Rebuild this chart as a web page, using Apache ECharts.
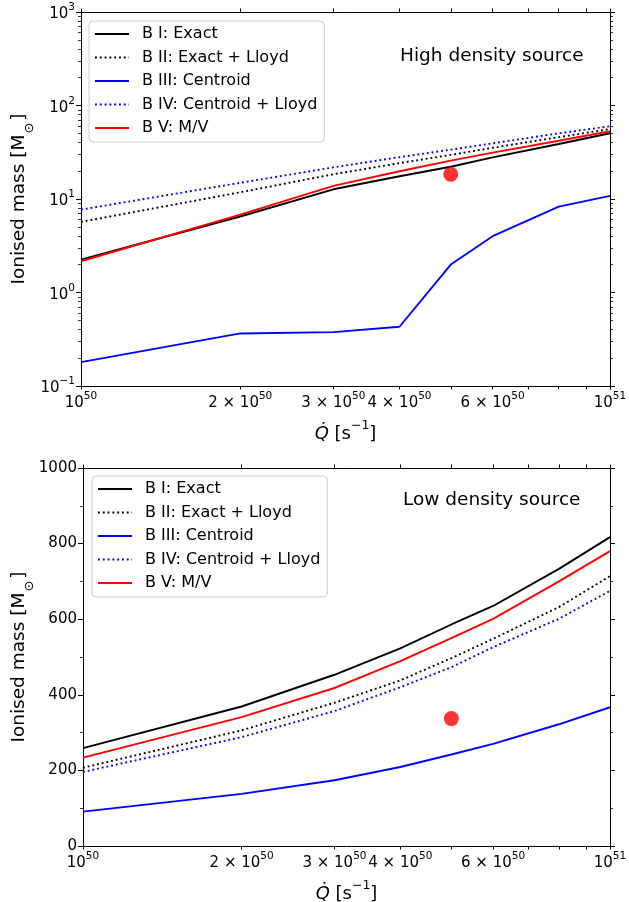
<!DOCTYPE html>
<html>
<head>
<meta charset="utf-8">
<script src="https://cdn.jsdelivr.net/npm/echarts@6/dist/echarts.min.js"></script>
<style>
html,body{margin:0;padding:0;background:#fff;}
#chart{width:629px;height:902px;}
</style>
</head>
<body>
<div id="chart"></div>
<script>
// Q-dot values in units of 1e50 s^-1
const qValues = [1, 2, 3, 4, 5, 6, 8, 10];
const seriesNames = ['B I: Exact', 'B II: Exact + Lloyd', 'B III: Centroid', 'B IV: Centroid + Lloyd', 'B V: M/V'];

// High density source (log-log)
const highExact = [2.25, 6.5, 12.7, 17.5, 22.1, 27.9, 38.7, 50.5];
const highExactLloyd = [5.7, 11.8, 18.4, 24.2, 29.6, 35.3, 45.9, 56];
const highCentroid = [0.18, 0.365, 0.377, 0.43, 1.99, 4.0, 8.3, 10.8];
const highCentroidLloyd = [7.7, 14.9, 21.8, 28, 33.7, 39.4, 50.4, 60];
const highMV = [2.16, 6.8, 13.8, 19.8, 25.7, 31.3, 42, 53];
const highPoint = [[5, 18.4]];

// Low density source (log-linear)
const lowExact = [259, 369, 453, 523, 586, 635, 733, 817];
const lowExactLloyd = [207, 306, 379, 438, 497, 548, 632, 714];
const lowCentroid = [91, 138, 174, 209, 242, 270, 322, 367];
const lowCentroidLloyd = [196, 288, 357, 420, 473, 526, 601, 675];
const lowMV = [234, 341, 418, 489, 550, 601, 700, 780];
const lowPoint = [[5, 337]];

// Tick values / labels
const xTickValues = [1, 2, 3, 4, 5, 6, 7, 8, 9, 10];
const xLabelValues = [1, 2, 3, 4, 6, 10];
const xLabelMantissa = ['', '2 × ', '3 × ', '4 × ', '6 × ', ''];
const xLabelExponent = ['50', '50', '50', '50', '50', '51'];
const yTopMajor = [0.1, 1, 10, 100, 1000];
const yTopExponent = ['−1', '0', '1', '2', '3'];
const yTopMinor = [];
[0.1, 1, 10, 100].forEach(d => { for (let k = 2; k <= 9; k++) yTopMinor.push(+(d * k).toPrecision(3)); });
const yLowMin = 0, yLowMax = 1000, yLowStep = 200;

const FONT = 'DejaVu Sans';
const colors = ['#000000', '#000000', '#0000ff', '#0000ff', '#ff0000'];
const dotted = [false, true, false, true, false];

const chart = echarts.init(document.getElementById('chart'), null, {renderer: 'canvas'});

const tickRich = {
  b: {fontSize: 15, fontFamily: FONT, color: '#000', lineHeight: 20, verticalAlign: 'bottom'},
  s: {fontSize: 10.5, fontFamily: FONT, color: '#000', lineHeight: 20, verticalAlign: 'top'}
};

function xAxes(gridIndex, position, withLabels) {
  return {
    type: 'log', logBase: 10, min: 1, max: 10, gridIndex, position,
    axisLine: {show: true, onZero: false, lineStyle: {color: '#000', width: 1}},
    axisTick: {show: true, inside: false, length: 3.5, customValues: xTickValues, lineStyle: {color: '#000', width: 1}},
    axisLabel: withLabels ? {
      show: true, margin: 5, customValues: xLabelValues,
      formatter: v => { const i = xLabelValues.indexOf(Math.round(v)); return '{b|' + xLabelMantissa[i] + '10}{s|' + xLabelExponent[i] + '}'; },
      rich: tickRich
    } : {show: false},
    splitLine: {show: false},
    minorTick: {show: false},
    name: withLabels ? '{i|Q\u0307}{t| [s}{s|−1}{t|]}' : '',
    nameLocation: 'middle', nameGap: 33, nameMoveOverlap: false,
    nameTextStyle: {
      rich: {
        i: {fontSize: 18, fontFamily: FONT, fontStyle: 'italic', color: '#000', lineHeight: 24, verticalAlign: 'bottom'},
        t: {fontSize: 18, fontFamily: FONT, color: '#000', lineHeight: 24, verticalAlign: 'bottom'},
        s: {fontSize: 12.5, fontFamily: FONT, color: '#000', lineHeight: 24, verticalAlign: 'top'}
      }
    }
  };
}

const yNameText = '{t|Ionised mass [M}{sub|⊙}{t|]}';
const yNameStyle = {
  rich: {
    t: {fontSize: 18.5, fontFamily: FONT, color: '#000', lineHeight: 26, verticalAlign: 'top'},
    sub: {fontSize: 13, fontFamily: FONT, color: '#000', lineHeight: 26, verticalAlign: 'bottom', padding: [0, 2, 0, 1]}
  }
};

function yTopAxis(position, major, labels) {
  return {
    type: 'log', logBase: 10, min: 0.1, max: 1000, gridIndex: 0, position, offset: 0,
    axisLine: {show: major, onZero: false, lineStyle: {color: '#000', width: 1}},
    axisTick: {show: true, inside: false, length: major ? 5 : 3, customValues: major ? yTopMajor : yTopMinor, lineStyle: {color: '#000', width: major ? 1 : 0.8}},
    axisLabel: labels ? {
      show: true, margin: 6, customValues: yTopMajor,
      formatter: v => { let best = 0; yTopMajor.forEach((m, i) => { if (Math.abs(Math.log10(m) - Math.log10(v)) < Math.abs(Math.log10(yTopMajor[best]) - Math.log10(v))) best = i; }); return '{b|10}{s|' + yTopExponent[best] + '}'; },
      rich: tickRich
    } : {show: false},
    splitLine: {show: false},
    name: labels ? yNameText : '', nameLocation: 'middle', nameRotate: 90, nameGap: 45, nameMoveOverlap: false,
    nameTextStyle: yNameStyle
  };
}

function yLowAxis(position, labels) {
  return {
    type: 'value', min: yLowMin, max: yLowMax, interval: yLowStep, gridIndex: 1, position,
    axisLine: {show: true, onZero: false, lineStyle: {color: '#000', width: 1}},
    axisTick: {show: true, inside: false, length: 5, lineStyle: {color: '#000', width: 1}},
    minorTick: {show: true, splitNumber: 2, length: 3, lineStyle: {color: '#000', width: 0.8}},
    axisLabel: labels ? {show: true, margin: 6, fontSize: 15, fontFamily: FONT, color: '#000', formatter: v => String(v)} : {show: false},
    splitLine: {show: false},
    minorSplitLine: {show: false},
    name: labels ? yNameText : '', nameLocation: 'middle', nameRotate: 90, nameGap: 47, nameMoveOverlap: false,
    nameTextStyle: yNameStyle
  };
}

const series = [];
function addLines(gridIdx, yIdx, arrays, point) {
  arrays.forEach((arr, k) => {
    series.push({
      type: 'line', name: seriesNames[k], xAxisIndex: gridIdx * 2, yAxisIndex: yIdx,
      data: qValues.map((q, i) => [q, arr[i]]),
      symbol: 'none', showSymbol: false, smooth: false, animation: false,
      lineStyle: {color: colors[k], width: 1.9, type: dotted[k] ? [1.9, 2.9] : 'solid', cap: 'butt'},
      itemStyle: {color: colors[k]},
      z: 2 + k
    });
  });
  series.push({
    type: 'scatter', name: 'point', xAxisIndex: gridIdx * 2, yAxisIndex: yIdx,
    data: point, symbol: 'circle', symbolSize: 15, itemStyle: {color: '#ff0000'}, z: 10, animation: false
  });
}
addLines(0, 0, [highExact, highExactLloyd, highCentroid, highCentroidLloyd, highMV], highPoint);
addLines(1, 4, [lowExact, lowExactLloyd, lowCentroid, lowCentroidLloyd, lowMV], lowPoint);

function legendAt(left, top) {
  return {
    data: seriesNames, orient: 'vertical', left, top,
    itemWidth: 34, itemHeight: 14, itemGap: 7.5,
    padding: [5, 7, 6, 5],
    backgroundColor: 'rgba(255,255,255,0.8)', borderColor: '#cccccc', borderWidth: 1, borderRadius: 4,
    itemStyle: {opacity: 0, borderWidth: 0},
    textStyle: {fontSize: 16, fontFamily: FONT, color: '#000', padding: [0, 0, 0, 8]},
    selectedMode: false
  };
}

const option = {
  backgroundColor: '#ffffff',
  animation: false,
  grid: [
    {left: 81, top: 12, width: 529, height: 374, outerBoundsMode: 'none', containLabel: false},
    {left: 83, top: 468, width: 527, height: 378, outerBoundsMode: 'none', containLabel: false}
  ],
  xAxis: [
    xAxes(0, 'bottom', true), xAxes(0, 'top', false),
    xAxes(1, 'bottom', true), xAxes(1, 'top', false)
  ],
  yAxis: [
    yTopAxis('left', true, true), yTopAxis('left', false, false),
    yTopAxis('right', true, false), yTopAxis('right', false, false),
    yLowAxis('left', true), yLowAxis('right', false)
  ],
  legend: [legendAt(89, 21), legendAt(92, 476)],
  graphic: [
    {type: 'text', left: 400, top: 47, style: {text: 'High density source', font: '18.5px "DejaVu Sans"', fill: '#000'}},
    {type: 'text', left: 403, top: 491, style: {text: 'Low density source', font: '18.5px "DejaVu Sans"', fill: '#000'}}
  ],
  series
};
chart.setOption(option);
</script>
</body>
</html>
